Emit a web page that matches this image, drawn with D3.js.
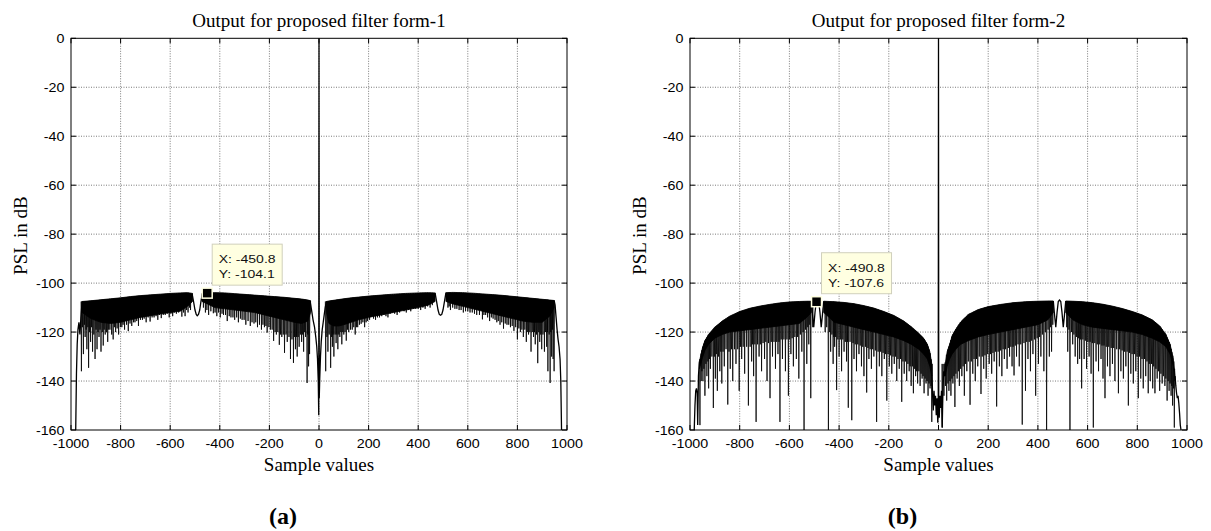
<!DOCTYPE html>
<html><head><meta charset="utf-8">
<script src="https://cdn.jsdelivr.net/npm/d3@7"></script>
<style>
body{margin:0;background:#fff;}
svg{display:block;}
</style></head><body>
<svg id="fig" width="1211" height="531"></svg>
<script>
// ---- axis ticks ----
const xTicks = [-1000,-800,-600,-400,-200,0,200,400,600,800,1000];
const yTicks = [0,-20,-40,-60,-80,-100,-120,-140,-160];

// ---- form-1: sidelobe band (upper envelope and dense lower edge), null = break ----
const form1BandX =     [-955,-920,-880,-840,-800,-760,-720,-680,-640,-600,-560,-530,-510,-490,-472,-450,-420,-380,-340,-300,-260,-220,-180,-140,-100,-70,-45,-34,0,30,40,60,80,100,130,160,200,250,300,350,400,440,468,490,512,540,580,620,660,700,740,780,820,860,900,930,948];
const form1BandTop =   [-107.5,-107.2,-106.8,-106.4,-106.0,-105.5,-105.1,-104.8,-104.5,-104.2,-104.0,-103.9,-104.2,null,-104.2,-104.0,-103.9,-104.0,-104.3,-104.6,-104.9,-105.2,-105.5,-105.8,-106.2,-106.5,-106.9,-107.2,null,-107.5,-107.3,-107.0,-106.7,-106.4,-106.0,-105.7,-105.3,-104.9,-104.5,-104.2,-104.0,-103.9,-104.0,null,-103.9,-103.8,-103.9,-104.1,-104.4,-104.7,-105.0,-105.4,-105.8,-106.2,-106.6,-106.9,-107.1];
const form1BandFloor = [-112,-114.5,-116,-116.5,-116,-115,-114,-113.3,-112.6,-112,-111.5,-109.5,-107.5,null,-107.5,-108.5,-110,-110.5,-111,-111.5,-112,-113,-114,-115,-116,-116.5,-115.5,-112,null,-112,-116.5,-117.5,-117.5,-117,-116,-115,-114,-113,-112,-111,-110,-109,-107.5,null,-107.5,-108.5,-109.5,-110.5,-111.5,-112.5,-113.5,-114.5,-115.5,-116,-116,-113.5,-110];
// form-1: individually traced parts (edges, notches, main lobe), null = break
const form1TraceX = [-981,-978,-975,-972,-968,-964,-960,-957,-955,null,
  -512,-506,-500,-495,-491,-486,-481,-476,-470,null,
  -36,-30,-24,-18,-13,-9,-6,-3,-1,0,1,3,6,9,13,17,21,25,30,null,
  468,474,480,485,490,495,500,506,512,null,
  948,952,956,960,964,968,972,975,978];
const form1TraceY = [-160,-137,-125,-119,-116,-121,-114,-110,-107.5,null,
  -104.2,-107.5,-111,-112.8,-113.3,-112.8,-111,-107.5,-104.2,null,
  -107.2,-111,-115,-118,-122,-126,-131,-140,-154,0,-147,-139,-130,-124,-119,-116,-113,-110,-107.5,null,
  -104.0,-107.5,-111,-112.8,-113.1,-112.8,-111,-107.5,-103.9,null,
  -107.1,-109,-114,-119,-123,-126,-131,-140,-160];
// form-1: nulls hanging below the band
const form1SpikeX = [-958,-954,-950,-946,-943,-939,-936,-932,-929,-925,-921,-917,-913,-908,-903,-899,-895,-891,-887,-883,-879,-874,-870,-866,-862,-857,-852,-848,-843,-836,-830,-825,-820,-814,-808,-801,-795,-790,-784,-776,-769,-762,-755,-748,-742,-735,-728,-720,-712,-705,-697,-689,-681,-673,-665,-657,-650,-643,-636,-628,-620,-612,-604,-597,-590,-583,-575,-566,-553,-546,-540,-534,-528,-522,-518,
  -466,-458,-452,-445,-436,-426,-419,-412,-405,-398,-391,-385,-377,-370,-362,-355,-347,-340,-332,-325,-317,-310,-302,-295,-286,-277,-270,-262,-255,-248,-240,-232,-226,-220,-214,-209,-202,-196,-189,-183,-177,-172,-166,-160,-155,-150,-144,-139,-133,-128,-121,-115,-109,-103,-99,-95,-91,-88,-84,-80,-75,-70,-66,-62,-58,-54,-48,-45,-42,-38,
  27,32,36,41,47,51,54,57,60,65,69,72,76,80,84,88,92,96,100,105,110,115,120,127,134,140,146,151,156,163,170,177,184,190,196,204,212,220,228,236,244,253,262,270,278,287,296,305,315,325,335,343,352,361,370,380,390,400,410,419,428,438,448,457,
  520,525,530,539,548,556,565,573,582,591,600,609,618,627,636,647,659,665,672,680,688,695,702,710,717,723,730,737,744,751,758,765,772,779,786,793,800,806,812,818,824,830,836,840,845,850,855,860,865,869,872,877,882,886,890,894,898,903,909,913,918,921,923,928,932,935,938,941,944,948];
const form1SpikeY = [-136,-118,-129,-117,-122,-119,-127,-118,-134.6,-120,-124,-118,-128,-121,-131,-119,-127,-120,-122,-119,-128,-120,-125.5,-119,-121,-120,-124,-119,-119,-121,-123,-118,-120,-118.5,-121,-118,-118,-117,-119,-117,-119.6,-116.5,-117.5,-116,-116,-115.5,-117.5,-115,-115,-114.5,-116,-114,-115.7,-114,-114,-113.5,-115,-113,-114.3,-113,-113,-112.5,-114,-112.5,-113.5,-112,-112.5,-112,-113.7,-112,-113.5,-111,-112,-110,-111,
  -110,-112,-111,-113,-111.5,-112.3,-112,-113.5,-112,-114,-112.5,-113,-113,-115.5,-113.5,-114,-114,-115,-114,-116,-114.5,-115,-115,-117,-115.5,-117.5,-116,-116.5,-116,-118,-117,-119,-117,-118,-117.5,-120.2,-118,-119,-119,-123.6,-120,-121,-120,-125.2,-121,-122,-121,-128.5,-121,-124,-122,-131,-123,-132.6,-122,-127,-122,-130,-122,-126,-121,-124,-121,-128,-120,-122,-140.8,-121,-134,-129,
  -136,-122,-128,-121,-134.6,-122,-126,-121,-130,-121,-124.5,-121,-127,-121,-122,-120,-125,-120,-121,-120,-123.5,-119,-120,-119,-119,-118,-121,-118,-118,-117,-116.6,-116,-118,-116,-115.5,-115,-113.5,-114.5,-115,-114,-114,-113.5,-113,-113.5,-114,-112.5,-112,-112.5,-113,-112,-111,-111.5,-112,-111,-111.5,-110.5,-110.5,-110.5,-111,-110,-110.5,-109.5,-110,-109,
  -110,-109.5,-111,-110,-110.5,-110.5,-111,-111,-112,-111.5,-111.5,-112,-112,-112.5,-113,-113,-114.8,-113,-113,-114,-115.5,-114,-114.5,-115,-116,-115.5,-117,-116,-118.6,-116.5,-117,-117,-118,-117.5,-119.5,-118,-123,-118.5,-120,-119,-122,-119,-124,-120,-121,-120,-128,-120,-122,-120,-125,-121,-132.7,-120,-124,-121,-127,-121,-128,-120,-126,-120,-136,-121,-140.8,-120,-130,-119,-131,-136];
const form1Tip = [-450.8, -104.1];

// ---- form-2 ----
const form2BandX =     [-962,-950,-940,-925,-900,-870,-840,-800,-760,-720,-680,-640,-600,-560,-530,-512,-487,-462,-440,-420,-380,-340,-300,-260,-220,-180,-140,-110,-80,-60,-45,-35,-27,0,27,35,45,55,70,90,120,160,200,250,300,350,400,440,462,487,512,540,580,620,660,700,740,780,820,860,890,915,932,945,952];
const form2BandTop =   [-132,-126.5,-123.5,-121,-118,-115.5,-113.5,-111.6,-110.3,-109.4,-108.7,-108.1,-107.7,-107.5,-107.4,-107.4,null,-107.4,-107.5,-107.6,-107.9,-108.4,-109.2,-110.2,-111.6,-113.2,-115.5,-117.8,-120.5,-122.5,-125,-128,-133,null,-133,-128,-125,-121.5,-118.8,-115.8,-112.8,-110.8,-109.6,-108.7,-108.0,-107.6,-107.4,-107.3,-107.3,null,-107.3,-107.4,-107.6,-108.0,-108.6,-109.4,-110.4,-111.6,-113.0,-115.0,-117.5,-121,-125,-131,-138];
const form2BandFloor = [-135,-130.5,-127.5,-125,-122.5,-121,-120,-119.5,-119,-118.5,-118,-117.5,-117,-116.5,-114,-112,null,-112,-114,-116,-117,-118,-119,-120,-121,-122,-123.5,-125,-127,-129,-131,-134,-138,null,-138,-134,-131,-129,-127,-125,-123.5,-122,-121,-120,-119,-118,-117,-115,-112,null,-112,-115,-117,-118,-118.5,-119,-119.5,-120,-121,-122.5,-124,-126,-129,-134,-140];
const form2TraceX = [-983,-980,-977,-974,-971,-969,-966,-963,-962,null,
  -512,-507,-502,-497,-492,-487,-482,-477,-472,-467,-462,null,
  -27,-24,-21,-18,-15,-12,-9,-6,-3,-1,0,1,3,6,9,12,15,18,21,24,27,null,
  462,467,472,477,482,487,492,497,502,507,512,null,
  952,955,958,961,964,967,970,973,976];
const form2TraceY = [-160,-150,-144,-143,-145,-158,-138,-133,-132,null,
  -107.4,-113,-118,-112,-107.6,-107.0,-107.6,-112,-118,-113,-107.4,null,
  -133,-145,-152,-144,-150,-146,-154,-147,-157,-150,0,-152,-155,-146,-151,-144,-159,-143,-136,-138,-133,null,
  -107.3,-113,-118,-112,-107.5,-106.9,-107.5,-112,-118,-113,-107.3,null,
  -138,-142,-145,-147,-146,-149,-153,-158,-160];
const form2SpikeX = [-960,-955,-952,-948,-944,-940,-936,-932,-928,-925,-921,-918,-912,-906,-902,-898,-894,-890,-885,-880,-876,-872,-867,-862,-855,-848,-843,-838,-833,-828,-821,-815,-808,-802,-797,-792,-786,-780,-772,-765,-758,-752,-748,-744,-739,-734,-728,-722,-717,-712,-706,-700,-695,-690,-684,-678,-673,-668,-662,-656,-651,-646,-642,-638,-633,-628,-622,-616,-610,-604,-599,-594,-589,-584,-578,-572,-567,-562,-556,-550,-545,-541,-535,-530,-526,-522,-518,-514,-506,
  -456,-450,-443,-438,-434,-429,-424,-421,-418,-414,-410,-405,-400,-395,-390,-385,-380,-375,-370,-366,-363,-356,-349,-344,-340,-335,-330,-325,-320,-315,-310,-305,-300,-294,-289,-284,-280,-275,-270,-265,-260,-254,-249,-243,-238,-233,-228,-223,-218,-213,-208,-203,-198,-193,-188,-183,-178,-173,-168,-163,-158,-153,-148,-143,-138,-133,-128,-123,-118,-114,-110,-105,-101,-96,-92,-88,-84,-79,-74,-70,-66,-62,-58,-54,-50,-46,-42,-38,-34,-30,-27,
  15,22,28,33,38,42,46,50,54,58,62,66,70,75,80,84,89,94,99,104,109,114,120,127,132,138,143,148,153,158,164,171,176,182,187,192,198,204,209,214,219,224,229,234,240,245,250,255,260,265,270,276,281,286,291,296,300,304,309,314,320,325,331,337,344,350,355,360,365,370,375,380,386,391,397,402,407,412,418,424,430,435,441,446,451,455,460,
  516,520,525,529,535,540,545,550,555,560,564,568,572,576,581,586,591,596,601,606,610,614,619,623,629,634,639,644,649,654,658,662,666,670,675,680,685,690,695,700,705,710,717,724,729,734,739,744,749,754,759,764,769,774,779,784,789,794,799,804,809,814,819,824,829,834,839,844,848,852,857,862,866,871,875,880,885,890,895,900,905,911,915,920,924,928,932,936,939,942,946,949];
const form2SpikeY = [-158,-140,-136,-140,-135,-146,-133,-138,-132,-143,-131,-135,-130,-151,-130,-139,-129,-144,-130,-136,-128,-141,-128,-134,-127,-149.6,-128,-135,-127,-140,-127,-133,-127,-144,-126,-131,-126,-137,-126,-150,-126,-132,-125,-138,-125,-156.7,-125,-130,-125,-136,-124.5,-131,-124,-140,-124.5,-147,-124,-130,-124,-135,-124,-129,-124,-156.7,-123,-131,-123,-136,-123,-146,-123,-129,-122.5,-134,-122,-131,-122,-139,-121,-128,-120,-160,-119,-133,-118,-125,-117,-147,-118,
  -120,-118,-160,-120,-128,-121,-133,-122,-126,-122,-143.7,-123,-130,-123,-136,-123,-128,-124,-132,-124,-150.9,-124,-156,-124.5,-131,-125,-136,-125,-129,-125.5,-134,-126,-138,-126,-144.7,-126.5,-131,-127,-135,-127,-130,-127.5,-156.7,-128,-134,-128,-138,-128.5,-131,-129,-148,-129,-134,-129.5,-137,-130,-133,-130,-140,-131,-135,-131,-148.5,-132,-137,-132,-140,-133,-136,-134,-142,-134,-145,-135,-138,-136,-141,-136,-142,-137,-139,-138,-145,-139,-141,-140,-146,-141,-143,-142,-156.7,
  -159,-146,-142,-148,-141,-144,-140,-146,-139,-141,-138,-150.6,-137,-139,-136,-142,-135,-138,-134,-146,-133,-136,-132,-149.7,-132,-137,-131,-140,-131,-134,-130,-145.3,-130,-135,-129.5,-139,-129,-133,-129,-137,-128.5,-132,-128,-150.4,-128,-134,-127.5,-138,-127,-131,-127,-135,-126.5,-130,-126,-134,-126,-137.7,-125.5,-130,-125,-134,-125,-157.8,-124.5,-144,-124,-131,-124,-136,-123.5,-129,-123,-146,-122.5,-133,-122,-130,-121,-136,-120,-160,-119,-130,-118,-128,-117,
  -118,-128,-119,-160,-120,-125,-121,-130,-122,-133,-122.5,-131,-123,-143,-123,-131,-123.5,-135,-124,-130,-124,-137,-124.5,-159,-124.5,-132,-125,-136,-125,-131,-125.5,-139,-125.5,-147,-126,-134,-126,-138,-126.5,-133,-126.5,-140,-127,-145,-127,-136,-127.5,-139,-128,-134,-128,-150,-128.5,-137,-129,-141,-129,-136,-130,-147,-130,-139,-131,-143,-131,-138,-132,-145,-133,-140,-133,-143,-134,-145,-135,-139,-136,-144,-137,-141,-138,-142,-139,-148,-140,-144,-141,-146,-142,-150,-143,-159];
const form2Tip = [-490.8, -107.6];

const panels = [
  {title: "Output for proposed filter form-1", tag: "(a)", left: 71, right: 567,
   bandX: form1BandX, bandTop: form1BandTop, bandFloor: form1BandFloor,
   traceX: form1TraceX, traceY: form1TraceY, spikeX: form1SpikeX, spikeY: form1SpikeY, tip: form1Tip},
  {title: "Output for proposed filter form-2", tag: "(b)", left: 690, right: 1187,
   bandX: form2BandX, bandTop: form2BandTop, bandFloor: form2BandFloor,
   traceX: form2TraceX, traceY: form2TraceY, spikeX: form2SpikeX, spikeY: form2SpikeY, tip: form2Tip}
];

const TOP = 38.3, BOTTOM = 430;
const SERIF = "'Liberation Serif','Times New Roman',serif";
const SANS = "'Liberation Sans',Arial,Helvetica,sans-serif";
const svg = d3.select("#fig");
svg.append("rect").attr("width", 1211).attr("height", 531).attr("fill", "#fff");

panels.forEach((p, pi) => {
  const x = d3.scaleLinear().domain([-1000, 1000]).range([p.left, p.right]);
  const y = d3.scaleLinear().domain([-160, 0]).range([BOTTOM, TOP]);
  const g = svg.append("g");
  const cx = (p.left + p.right) / 2;

  // grid
  g.append("g").selectAll("line").data(xTicks.slice(1, -1)).join("line")
    .attr("x1", d => x(d)).attr("x2", d => x(d)).attr("y1", TOP).attr("y2", BOTTOM)
    .attr("stroke", "#7a7a7a").attr("stroke-width", 1).attr("stroke-dasharray", "1,1.5");
  g.append("g").selectAll("line").data(yTicks.slice(1, -1)).join("line")
    .attr("y1", d => y(d)).attr("y2", d => y(d)).attr("x1", p.left).attr("x2", p.right)
    .attr("stroke", "#7a7a7a").attr("stroke-width", 1).attr("stroke-dasharray", "1,1.5");

  // data, clipped to the axes box
  const clipId = "clip" + pi;
  g.append("clipPath").attr("id", clipId).append("rect")
    .attr("x", p.left).attr("y", TOP).attr("width", p.right - p.left).attr("height", BOTTOM - TOP);
  const plot = g.append("g").attr("clip-path", `url(#${clipId})`);

  const band = p.bandX.map((v, i) => ({x: v, top: p.bandTop[i], floor: p.bandFloor[i]}));
  const area = d3.area().defined(d => d.top != null)
    .x(d => x(d.x)).y0(d => y(d.floor)).y1(d => y(d.top));
  plot.append("path").datum(band).attr("d", area)
    .attr("fill", "#000").attr("stroke", "#000").attr("stroke-width", 0.8);

  // envelope lookup so each null hangs from the band's upper edge
  const valid = band.filter(d => d.top != null);
  const topAt = d3.scaleLinear().domain(valid.map(d => d.x)).range(valid.map(d => d.top));
  const line = d3.line().defined(d => d[1] != null).x(d => x(d[0])).y(d => y(d[1]));
  plot.append("g").selectAll("path").data(p.spikeX.map((v, i) => [v, p.spikeY[i]])).join("path")
    .attr("d", d => line([[d[0] - 1.5, topAt(d[0])], [d[0], d[1]], [d[0] + 1.5, topAt(d[0])]]))
    .attr("fill", "none").attr("stroke", "#000").attr("stroke-width", 0.8);

  const trace = p.traceX.map((v, i) => [v, v == null ? null : p.traceY[i]]);
  plot.append("path").datum(trace).attr("d", line)
    .attr("fill", "none").attr("stroke", "#000").attr("stroke-width", 1.3);

  // axes box and inward ticks on all four sides
  g.append("rect").attr("x", p.left).attr("y", TOP).attr("width", p.right - p.left).attr("height", BOTTOM - TOP)
    .attr("fill", "none").attr("stroke", "#000").attr("stroke-width", 1);
  const tk = 5;
  g.append("g").selectAll("line").data(xTicks).join("line")
    .attr("x1", d => x(d)).attr("x2", d => x(d)).attr("y1", BOTTOM).attr("y2", BOTTOM - tk).attr("stroke", "#000");
  g.append("g").selectAll("line").data(xTicks).join("line")
    .attr("x1", d => x(d)).attr("x2", d => x(d)).attr("y1", TOP).attr("y2", TOP + tk).attr("stroke", "#000");
  g.append("g").selectAll("line").data(yTicks).join("line")
    .attr("y1", d => y(d)).attr("y2", d => y(d)).attr("x1", p.left).attr("x2", p.left + tk).attr("stroke", "#000");
  g.append("g").selectAll("line").data(yTicks).join("line")
    .attr("y1", d => y(d)).attr("y2", d => y(d)).attr("x1", p.right).attr("x2", p.right - tk).attr("stroke", "#000");

  // tick labels
  g.append("g").selectAll("text").data(xTicks).join("text")
    .attr("transform", d => `translate(${x(d)},448.3) scale(1.1,1)`)
    .attr("text-anchor", "middle").attr("font-family", SANS).attr("font-size", 13).attr("fill", "#000")
    .text(d => d);
  g.append("g").selectAll("text").data(yTicks).join("text")
    .attr("transform", d => `translate(${p.left - 6.5},${y(d) + 4.6}) scale(1.1,1)`)
    .attr("text-anchor", "end").attr("font-family", SANS).attr("font-size", 13).attr("fill", "#000")
    .text(d => d);

  // titles and labels
  g.append("text").attr("x", cx).attr("y", 27).attr("text-anchor", "middle")
    .attr("font-family", SERIF).attr("font-size", 19).text(p.title);
  g.append("text").attr("x", cx).attr("y", 470.5).attr("text-anchor", "middle")
    .attr("font-family", SERIF).attr("font-size", 19).text("Sample values");
  g.append("text").attr("transform", `translate(${p.left - 44.5},${(TOP + BOTTOM) / 2 + 1.5}) rotate(-90)`)
    .attr("text-anchor", "middle").attr("font-family", SERIF).attr("font-size", 19).text("PSL in dB");
  g.append("text").attr("x", cx - 36).attr("y", 524).attr("text-anchor", "middle")
    .attr("font-family", SERIF).attr("font-weight", "bold").attr("font-size", 24).text(p.tag);

  // data tip
  const mx = x(p.tip[0]), my = y(p.tip[1]);
  const tip = g.append("g");
  tip.append("rect").attr("x", mx + 5).attr("y", my - 49).attr("width", 70).attr("height", 41)
    .attr("fill", "#ffffe1").attr("stroke", "#d0d0bc").attr("stroke-width", 1);
  tip.append("text").attr("transform", `translate(${mx + 11.5},${my - 30}) scale(1.22,1)`)
    .attr("font-family", SANS).attr("font-size", 11.5).attr("fill", "#111").text(`X: ${p.tip[0]}`);
  tip.append("text").attr("transform", `translate(${mx + 11.5},${my - 15}) scale(1.22,1)`)
    .attr("font-family", SANS).attr("font-size", 11.5).attr("fill", "#111").text(`Y: ${p.tip[1]}`);
  tip.append("rect").attr("x", mx - 5).attr("y", my - 5).attr("width", 10).attr("height", 10)
    .attr("fill", "#000").attr("stroke", "#ffffe1").attr("stroke-width", 1.5);
});
</script>
</body></html>
